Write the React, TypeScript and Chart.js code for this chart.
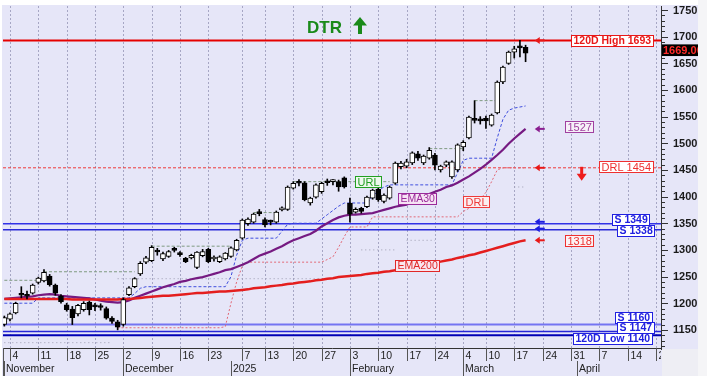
import React, { useEffect, useRef } from 'react';
import { Chart, registerables } from 'chart.js';

Chart.register(...registerables);

// ---------- data ----------
const tradingDays: string[] = [
  '2024-11-01',
  '2024-11-04', '2024-11-05', '2024-11-06', '2024-11-07', '2024-11-08',
  '2024-11-11', '2024-11-12', '2024-11-13', '2024-11-14', '2024-11-15',
  '2024-11-18', '2024-11-19', '2024-11-20', '2024-11-21', '2024-11-22',
  '2024-11-25', '2024-11-26', '2024-11-27', '2024-11-28', '2024-11-29',
  '2024-12-02', '2024-12-03', '2024-12-04', '2024-12-05', '2024-12-06',
  '2024-12-09', '2024-12-10', '2024-12-11', '2024-12-12', '2024-12-13',
  '2024-12-16', '2024-12-17', '2024-12-18', '2024-12-19', '2024-12-20',
  '2024-12-23', '2024-12-24', '2024-12-27', '2024-12-30',
  '2025-01-02', '2025-01-03',
  '2025-01-07', '2025-01-08', '2025-01-09', '2025-01-10',
  '2025-01-13', '2025-01-14', '2025-01-15', '2025-01-16', '2025-01-17',
  '2025-01-20', '2025-01-21', '2025-01-22', '2025-01-23', '2025-01-24',
  '2025-01-27', '2025-01-28', '2025-01-29', '2025-01-30', '2025-01-31',
  '2025-02-03', '2025-02-04', '2025-02-05', '2025-02-06', '2025-02-07',
  '2025-02-10', '2025-02-11', '2025-02-12', '2025-02-13', '2025-02-14',
  '2025-02-17', '2025-02-18', '2025-02-19', '2025-02-20', '2025-02-21',
  '2025-02-24', '2025-02-25', '2025-02-26', '2025-02-27', '2025-02-28',
  '2025-03-04', '2025-03-05', '2025-03-06', '2025-03-07',
  '2025-03-10', '2025-03-11', '2025-03-12', '2025-03-13', '2025-03-14',
  '2025-03-17', '2025-03-18', '2025-03-19',
  '2025-03-20', '2025-03-21',
  '2025-03-24', '2025-03-25', '2025-03-26', '2025-03-27', '2025-03-28',
  '2025-03-31', '2025-04-01', '2025-04-02', '2025-04-03', '2025-04-04',
  '2025-04-07', '2025-04-08', '2025-04-09', '2025-04-10', '2025-04-11',
  '2025-04-14', '2025-04-15', '2025-04-16', '2025-04-17', '2025-04-18',
  '2025-04-21',
];

const open: number[] = [
  1160, 1170, 1182, 1216, 1214, 1219, 1239, 1242, 1251, 1234,
  1214, 1197, 1189, 1180, 1188, 1202, 1194, 1194, 1190, 1172,
  1165, 1160, 1216, 1231, 1255, 1277, 1280, 1297, 1283, 1288,
  1300, 1293, 1284, 1285, 1267, 1289, 1301, 1283, 1278, 1283,
  1288, 1300, 1322, 1349, 1352, 1369, 1357, 1353, 1352, 1375,
  1376, 1416, 1426, 1426, 1388, 1399, 1409, 1427, 1428, 1428,
  1435, 1388, 1371, 1378, 1381, 1397, 1414, 1391, 1397, 1425,
  1456, 1457, 1463, 1480, 1463, 1472, 1478, 1450, 1459, 1437,
  1450, 1493, 1510, 1545, 1543, 1547, 1534, 1557, 1615, 1650,
  1671, 1680, 1680,
];
const high: number[] = [
  1176, 1182, 1202, 1231, 1223, 1236, 1249, 1263, 1254, 1236,
  1216, 1200, 1194, 1198, 1203, 1204, 1200, 1199, 1193, 1175,
  1168, 1210, 1231, 1248, 1278, 1288, 1308, 1303, 1296, 1299,
  1305, 1297, 1286, 1292, 1297, 1301, 1303, 1289, 1289, 1295,
  1306, 1320, 1358, 1360, 1369, 1376, 1360, 1356, 1373, 1381,
  1420, 1428, 1432, 1428, 1399, 1424, 1427, 1433, 1432, 1431,
  1437, 1397, 1379, 1380, 1401, 1414, 1417, 1405, 1420, 1465,
  1466, 1470, 1484, 1485, 1478, 1492, 1481, 1459, 1467, 1467,
  1499, 1505, 1551, 1580, 1550, 1551, 1555, 1617, 1645, 1673,
  1682, 1693, 1684,
];
const low: number[] = [
  1157, 1167, 1180, 1210, 1208, 1217, 1236, 1240, 1232, 1215,
  1200, 1185, 1160, 1176, 1185, 1178, 1186, 1187, 1170, 1162,
  1150, 1157, 1214, 1229, 1252, 1274, 1278, 1290, 1280, 1286,
  1296, 1288, 1276, 1283, 1265, 1287, 1276, 1279, 1276, 1281,
  1286, 1298, 1320, 1346, 1350, 1364, 1343, 1347, 1350, 1373,
  1374, 1414, 1420, 1392, 1384, 1397, 1406, 1421, 1422, 1410,
  1416, 1352, 1369, 1369, 1379, 1395, 1391, 1388, 1395, 1423,
  1452, 1454, 1460, 1468, 1460, 1470, 1450, 1446, 1456, 1434,
  1447, 1486, 1508, 1538, 1536, 1528, 1532, 1555, 1612, 1648,
  1660, 1662, 1653,
];
const close: number[] = [
  1173, 1180, 1200, 1215, 1213, 1234, 1247, 1258, 1235, 1219,
  1203, 1188, 1173, 1196, 1200, 1188, 1193, 1192, 1172, 1166,
  1155, 1207, 1229, 1246, 1275, 1285, 1305, 1296, 1293, 1297,
  1299, 1291, 1278, 1290, 1296, 1297, 1278, 1285, 1287, 1294,
  1304, 1318, 1356, 1358, 1367, 1368, 1347, 1352, 1371, 1379,
  1418, 1425, 1425, 1394, 1397, 1422, 1425, 1426, 1428, 1418,
  1418, 1367, 1376, 1372, 1399, 1412, 1394, 1403, 1418, 1463,
  1463, 1465, 1482, 1472, 1476, 1487, 1459, 1457, 1465, 1465,
  1497, 1502, 1549, 1543, 1542, 1542, 1553, 1615, 1643, 1671,
  1677, 1679, 1669,
];

const ema30: number[] = [
  1208, 1209, 1210, 1211, 1212, 1213, 1215, 1216, 1217, 1216,
  1214, 1213, 1212, 1211, 1210, 1209, 1207, 1205, 1203, 1202,
  1201, 1202, 1205, 1210, 1214, 1218, 1222, 1226, 1230, 1233,
  1236, 1240, 1242, 1245, 1247, 1249, 1252, 1255, 1258, 1262,
  1264, 1268, 1272, 1277, 1283, 1289, 1293, 1297, 1302, 1307,
  1313, 1318, 1322, 1326, 1330, 1336, 1344, 1350, 1356, 1361,
  1364, 1366, 1366, 1367, 1368, 1369, 1372, 1375, 1378, 1381,
  1383, 1385, 1390, 1395, 1400, 1405, 1409, 1413, 1418, 1421,
  1426, 1432, 1438, 1445, 1452, 1460, 1469, 1478, 1488, 1499,
  1509, 1518, 1527,
];
const ema200: number[] = [
  1208, 1208, 1208, 1208, 1208, 1208, 1208, 1208, 1208, 1208,
  1208, 1208, 1207, 1207, 1207, 1207, 1207, 1207, 1207, 1207,
  1207, 1208, 1208, 1209, 1210, 1211, 1212, 1213, 1214, 1214,
  1215, 1216, 1217, 1218, 1219, 1219, 1220, 1221, 1222, 1222,
  1223, 1224, 1225, 1226, 1228, 1229, 1230, 1232, 1233, 1234,
  1236, 1237, 1239, 1240, 1241, 1243, 1244, 1246, 1247, 1249,
  1250, 1251, 1252, 1253, 1255, 1256, 1257, 1259, 1260, 1262,
  1264, 1266, 1268, 1270, 1272, 1274, 1276, 1278, 1280, 1282,
  1285, 1287, 1290, 1292, 1295, 1298, 1301, 1304, 1307, 1310,
  1313, 1316, 1318,
];
const stopTrail: (number | null)[] = [
  1200, 1200, 1200, 1200, 1200, 1200, 1210, 1210, 1210, 1210,
  1210, 1210, 1210, 1210, 1210, 1210, 1210, 1210, 1210, 1210,
  1210, 1210, 1210, 1218, 1228, 1231, 1231, 1231, 1231, 1231,
  1231, 1231, 1231, 1231, 1231, 1231, 1231, 1231, 1231, 1231,
  1250, 1290, 1318, 1322, 1322, 1322, 1322, 1322, 1322, 1335,
  1348, 1350, 1350, 1350, 1350, 1350, 1358, 1366, 1374, 1382,
  1388, 1388, 1388, 1388, 1388, 1400, 1412, 1418, 1422, 1422,
  1422, 1422, 1422, 1422, 1422, 1422, 1422, 1422, 1422, 1422,
  1445, 1468, 1472, 1472, 1472, 1472, 1472, 1510, 1545, 1562,
  1566, 1568, 1570,
];
const drlTrail: (number | null)[] = [
  null, null, null, null, null, null, null, null, null, null,
  null, null, null, null, null, null, null, null, null, 1165,
  1154, 1154, 1154, 1154, 1154, 1154, 1154, 1154, 1154, 1154,
  1154, 1154, 1154, 1154, 1154, 1154, 1154, 1154, 1154, 1156,
  1200, 1240, 1270, 1277, 1277, 1277, 1277, 1277, 1277, 1277,
  1277, 1277, 1277, 1277, 1277, 1277, 1277, 1282, 1287, 1305,
  1325, 1343, 1343, 1343, 1343, 1362, 1362, 1362, 1362, 1362,
  1362, 1362, 1362, 1362, 1362, 1362, 1362, 1362, 1362, 1362,
  1362, 1372, 1378, 1386, 1395, 1408, 1428, 1450, 1454, 1454,
  1454, 1454, 1454,
];
// [startIndex, endIndex, level]
const urlSegments: [number, number, number][] = [
  [0, 6, 1243], [7, 23, 1259], [26, 40, 1307], [44, 48, 1370],
  [51, 68, 1428], [75, 81, 1490], [83, 87, 1580],
];
const lowSegments: [number, number, number][] = [
  [0, 19, 1126], [20, 58, 1246], [63, 69, 1300], [71, 76, 1318], [90, 92, 1418],
];

const high120 = 1693;
const low120 = 1140;
const drlLevel = 1454;
const supports: number[] = [1349, 1338, 1160, 1147];
const yTicks: number[] = [1150, 1200, 1250, 1300, 1350, 1400, 1450, 1500, 1550, 1600, 1650, 1700, 1750];
const weekTicks: string[] = [
  '2024-11-04', '2024-11-11', '2024-11-18', '2024-11-25', '2024-12-02', '2024-12-09',
  '2024-12-16', '2024-12-23', '2025-01-07', '2025-01-13', '2025-01-20', '2025-01-27',
  '2025-02-03', '2025-02-10', '2025-02-17', '2025-02-24', '2025-03-04', '2025-03-10',
  '2025-03-17', '2025-03-24', '2025-03-31', '2025-04-07', '2025-04-14', '2025-04-21',
];
const monthStarts: string[] = ['2024-11-01', '2024-12-02', '2025-01-02', '2025-02-03', '2025-03-04', '2025-04-01'];
const monthLabels: string[] = ['November', 'December', '2025', 'February', 'March', 'April'];
const title = 'DTR';

// ---------- layout ----------
const X_MIN = -0.235;
const X_MAX = 115.9;
const Y_MIN = 1116;
const Y_MAX = 1757.5;
const FONT = 'Arial, "Liberation Sans", sans-serif';

const idx = (d: string) => tradingDays.indexOf(d);
const lastIdx = close.length - 1;

function segPoints(segs: [number, number, number][]) {
  const pts: { x: number; y: number | null }[] = [];
  segs.forEach(([s, e, v]) => {
    pts.push({ x: s, y: v }, { x: e, y: v }, { x: e, y: null });
  });
  return pts;
}
const seriesPoints = (arr: (number | null)[]) => arr.map((v, i) => ({ x: i, y: v }));
const hLine = (v: number) => [{ x: X_MIN, y: v }, { x: X_MAX, y: v }];

function drawBox(ctx: CanvasRenderingContext2D, text: string, x: number, cy: number, anchor: 'left' | 'right' | 'center',
  color: string, fill: string, font: string) {
  ctx.font = font;
  const w = Math.round(ctx.measureText(text).width + 5);
  const h = 12;
  let left = x;
  if (anchor === 'right') left = x - w;
  if (anchor === 'center') left = x - w / 2;
  left = Math.round(left);
  const top = Math.round(cy - h / 2);
  ctx.fillStyle = fill;
  ctx.fillRect(left, top, w, h);
  ctx.strokeStyle = color;
  ctx.lineWidth = 1;
  ctx.setLineDash([]);
  ctx.strokeRect(left + 0.5, top + 0.5, w - 1, h - 1);
  ctx.fillStyle = color;
  ctx.textBaseline = 'middle';
  ctx.textAlign = 'left';
  ctx.fillText(text, left + 2.5, top + h / 2 + 0.5);
}

function leftArrow(ctx: CanvasRenderingContext2D, x: number, y: number, color: string) {
  ctx.strokeStyle = color;
  ctx.fillStyle = color;
  ctx.lineWidth = 2;
  ctx.setLineDash([]);
  ctx.beginPath();
  ctx.moveTo(x + 5, y);
  ctx.lineTo(x - 1, y);
  ctx.stroke();
  ctx.beginPath();
  ctx.moveTo(x - 5, y);
  ctx.lineTo(x, y - 3.5);
  ctx.lineTo(x, y + 3.5);
  ctx.closePath();
  ctx.fill();
}

const decor = {
  id: 'decor',
  beforeDraw(chart: any) {
    const { ctx, width, height, chartArea: a } = chart;
    ctx.save();
    ctx.fillStyle = '#ffffff';
    ctx.fillRect(0, 0, width, height);
    ctx.fillStyle = '#e6e6f8';
    ctx.fillRect(2, 5, 696, height - 5);
    ctx.fillStyle = '#eeeef4';
    ctx.fillRect(a.right + 1, a.bottom + 1, 698 - a.right - 1, height - a.bottom);
    ctx.fillStyle = '#f5f5f7';
    ctx.fillRect(698, 0, width - 698, height);
    ctx.restore();
  },
  beforeDatasetsDraw(chart: any) {
    const { ctx, chartArea: a, scales } = chart;
    const x = scales.x;
    ctx.save();
    ctx.strokeStyle = '#a6a6c4';
    ctx.lineWidth = 1;
    ctx.setLineDash([2, 2]);
    weekTicks.forEach((d) => {
      const px = Math.round(x.getPixelForValue(idx(d))) + 0.5;
      ctx.beginPath();
      ctx.moveTo(px, a.top);
      ctx.lineTo(px, a.bottom);
      ctx.stroke();
    });
    ctx.restore();
  },
  afterDatasetsDraw(chart: any) {
    const { ctx, chartArea: a, scales, height } = chart;
    const x = scales.x;
    const y = scales.y;
    ctx.save();

    // inline labels
    const lab = (i: number) => x.getPixelForValue(i);
    drawBox(ctx, 'URL', lab(64.3), y.getPixelForValue(urlSegments[4][2]), 'center', '#22a022', '#eef8ee', `11px ${FONT}`);
    drawBox(ctx, 'EMA30', lab(73), y.getPixelForValue(ema30[73]), 'center', '#9a2a9a', '#f6e2f4', `10.5px ${FONT}`);
    drawBox(ctx, 'EMA200', lab(73), y.getPixelForValue(ema200[73]), 'center', '#e02828', '#f9e6ee', `10.5px ${FONT}`);
    drawBox(ctx, 'DRL', lab(83.3), y.getPixelForValue(1390), 'center', '#ee3a3a', '#fbeef0', `11px ${FONT}`);

    // arrows near last bar
    const ax = x.getPixelForValue(lastIdx + 2.5);
    leftArrow(ctx, ax, y.getPixelForValue(high120), '#e81818');
    leftArrow(ctx, ax, y.getPixelForValue(ema30[lastIdx]), '#8a1e90');
    leftArrow(ctx, ax, y.getPixelForValue(drlLevel), '#e81818');
    leftArrow(ctx, ax, y.getPixelForValue(supports[0]) - 2, '#1c1ce0');
    leftArrow(ctx, ax, y.getPixelForValue(supports[1]) - 1, '#1c1ce0');
    leftArrow(ctx, ax, y.getPixelForValue(ema200[lastIdx]), '#e81818');

    // down arrow (DRL)
    const dx = x.getPixelForValue(lastIdx + 9.9);
    const dy0 = y.getPixelForValue(drlLevel) - 1;
    ctx.fillStyle = '#ee1c1c';
    ctx.fillRect(dx - 1.5, dy0, 3, 8);
    ctx.beginPath();
    ctx.moveTo(dx - 5, dy0 + 7);
    ctx.lineTo(dx + 5, dy0 + 7);
    ctx.lineTo(dx, dy0 + 14);
    ctx.closePath();
    ctx.fill();

    // value labels near the arrows
    const vx = x.getPixelForValue(lastIdx + 9.6);
    drawBox(ctx, String(ema30[lastIdx]), vx, y.getPixelForValue(ema30[lastIdx]) - 2, 'center', '#a040a0', '#f6f0f8', `11px ${FONT}`);
    drawBox(ctx, String(ema200[lastIdx]), vx, y.getPixelForValue(ema200[lastIdx]) + 1, 'center', '#ee3030', '#fbf2f4', `11px ${FONT}`);

    // right labels
    const rl: [string, number, string, number, number, string][] = [
      [`120D High ${high120}`, high120, '#e81818', 654, 0.5, 'bold'],
      [`DRL ${drlLevel}`, drlLevel, '#ee3030', 654, -1, ''],
      [`S ${supports[0]}`, supports[0], '#2020e0', 650, -3.5, 'bold'],
      [`S ${supports[1]}`, supports[1], '#2020e0', 655, 1.5, 'bold'],
      [`S ${supports[2]}`, supports[2], '#2020e0', 653, -6.5, 'bold'],
      [`S ${supports[3]}`, supports[3], '#2020e0', 655, -3, 'bold'],
      [`120D Low ${low120}`, low120, '#2020e0', 653, 4, 'bold'],
    ];
    rl.forEach(([t, v, c, r, off, w]) => {
      drawBox(ctx, t, r, y.getPixelForValue(v) + off, 'right', c, '#ffffff', `${w} ${w ? 10.5 : 11}px ${FONT}`.trim());
    });

    // title
    ctx.fillStyle = '#1a8a1a';
    ctx.font = `bold 17px ${FONT}`;
    ctx.textBaseline = 'alphabetic';
    ctx.textAlign = 'left';
    ctx.fillText(title, 307, 33);
    ctx.fillRect(358, 24, 4, 10);
    ctx.beginPath();
    ctx.moveTo(353, 25.5);
    ctx.lineTo(367, 25.5);
    ctx.lineTo(360, 17);
    ctx.closePath();
    ctx.fill();

    // right axis
    ctx.strokeStyle = '#333';
    ctx.lineWidth = 1;
    ctx.setLineDash([]);
    ctx.beginPath();
    ctx.moveTo(a.right + 0.5, a.top);
    ctx.lineTo(a.right + 0.5, a.bottom + 2);
    ctx.stroke();
    for (let v = 1120; v <= 1750; v += 10) {
      const py = Math.round(y.getPixelForValue(v)) + 0.5;
      const major = v % 50 === 0;
      ctx.beginPath();
      ctx.moveTo(a.right, py);
      ctx.lineTo(a.right + (major ? 7 : 4), py);
      ctx.stroke();
    }
    ctx.fillStyle = '#1a1a1a';
    ctx.font = `bold 11px ${FONT}`;
    ctx.textBaseline = 'middle';
    yTicks.forEach((v) => ctx.fillText(String(v), a.right + 12, y.getPixelForValue(v) + 0.5));

    // price tag
    const py = y.getPixelForValue(close[lastIdx]) - 3;
    ctx.save();
    ctx.beginPath();
    ctx.rect(a.right + 1, py - 6, 698 - a.right - 1, 12);
    ctx.clip();
    ctx.fillStyle = '#000';
    ctx.fillRect(a.right + 1, py - 6, 40, 12);
    ctx.fillStyle = '#ff2a2a';
    ctx.font = `bold 11px ${FONT}`;
    ctx.fillText(close[lastIdx].toFixed(2), a.right + 2, py + 0.5);
    ctx.restore();

    // bottom axis
    ctx.strokeStyle = '#333';
    ctx.beginPath();
    ctx.moveTo(a.left, a.bottom + 0.5);
    ctx.lineTo(a.right + 1, a.bottom + 0.5);
    ctx.stroke();
    ctx.save();
    ctx.beginPath();
    ctx.rect(a.left, a.bottom, a.right - a.left, height - a.bottom);
    ctx.clip();
    ctx.strokeStyle = '#555';
    ctx.fillStyle = '#222';
    ctx.font = `10.5px ${FONT}`;
    ctx.textBaseline = 'alphabetic';
    ctx.beginPath();
    ctx.moveTo(a.left + 0.5, a.bottom);
    ctx.lineTo(a.left + 0.5, height);
    ctx.stroke();
    weekTicks.forEach((d) => {
      const px = Math.round(x.getPixelForValue(idx(d))) + 0.5;
      ctx.beginPath();
      ctx.moveTo(px, a.bottom);
      ctx.lineTo(px, a.bottom + 13);
      ctx.stroke();
      ctx.fillText(String(Number(d.slice(8))), px + 2, a.bottom + 10.5);
    });
    monthStarts.forEach((d, k) => {
      const px = Math.max(a.left, Math.round(x.getPixelForValue(idx(d)))) + 0.5;
      ctx.beginPath();
      ctx.moveTo(px, a.bottom + 13);
      ctx.lineTo(px, height);
      ctx.stroke();
      ctx.fillText(monthLabels[k], px + 1.5, a.bottom + 23.5);
    });
    ctx.restore();

    ctx.restore();
  },
};

export default function App() {
  const ref = useRef<HTMLCanvasElement>(null);
  useEffect(() => {
    const bodyColors = close.map((c, i) => (c >= open[i] ? '#ffffff' : '#000000'));
    const lineDs = (label: string, data: any[], color: string, width: number, dash: number[], order: number) => ({
      type: 'line' as const,
      label,
      data,
      borderColor: color,
      borderWidth: width,
      borderDash: dash,
      pointRadius: 0,
      tension: 0,
      spanGaps: false,
      order,
    });
    const chart = new Chart(ref.current as HTMLCanvasElement, {
      type: 'bar',
      data: {
        datasets: [
          lineDs('120D High', hLine(high120), '#e60000', 2, [], 30),
          lineDs('DRL', hLine(drlLevel), '#ee3a3a', 1, [3, 2], 30),
          lineDs('S1', hLine(supports[0]), '#3232e6', 1.5, [], 30),
          lineDs('S2', hLine(supports[1]), '#2a2ad8', 1.5, [], 30),
          lineDs('S3', hLine(supports[2]), '#7474f2', 2, [], 30),
          lineDs('S4', hLine(supports[3]), '#2626d6', 1.5, [], 30),
          lineDs('120D Low', hLine(low120), '#0000b4', 2, [], 30),
          lineDs('low', segPoints(lowSegments), '#9c9cb0', 1, [1, 3], 25),
          lineDs('url', segPoints(urlSegments), '#7f9a80', 1, [3, 2], 25),
          lineDs('drlTrail', seriesPoints(drlTrail), '#e26876', 1, [2, 2], 24),
          lineDs('stop', seriesPoints(stopTrail), '#3f4ede', 1, [3, 2], 24),
          lineDs('EMA200', seriesPoints(ema200), '#e41e1e', 2.5, [], 20),
          lineDs('EMA30', seriesPoints(ema30), '#761a82', 2.2, [], 20),
          {
            type: 'bar' as const,
            label: 'wick',
            data: close.map((_, i) => ({ x: i, y: [low[i], high[i]] })),
            backgroundColor: '#000000',
            barThickness: 1,
            grouped: false,
            order: 2,
          },
          {
            type: 'bar' as const,
            label: 'body',
            data: close.map((c, i) => ({ x: i, y: [open[i], c] })),
            backgroundColor: bodyColors,
            borderColor: '#000000',
            borderWidth: 1,
            borderSkipped: false,
            barThickness: 5,
            minBarLength: 2,
            grouped: false,
            order: 1,
          },
        ] as any,
      },
      options: {
        animation: false,
        responsive: false,
        events: [],
        layout: { padding: { left: 3, top: 6, right: 46, bottom: 28 } },
        plugins: { legend: { display: false }, tooltip: { enabled: false } },
        scales: {
          x: { type: 'linear', display: false, min: X_MIN, max: X_MAX, offset: false },
          y: { type: 'linear', display: false, min: Y_MIN, max: Y_MAX, beginAtZero: false },
        },
      },
      plugins: [decor],
    });
    return () => chart.destroy();
  }, []);
  return (
    <div style={{ position: 'fixed', left: 0, top: 0, width: 707, height: 376 }}>
      <canvas ref={ref} width={707} height={376} style={{ display: 'block', width: 707, height: 376 }} />
    </div>
  );
}
